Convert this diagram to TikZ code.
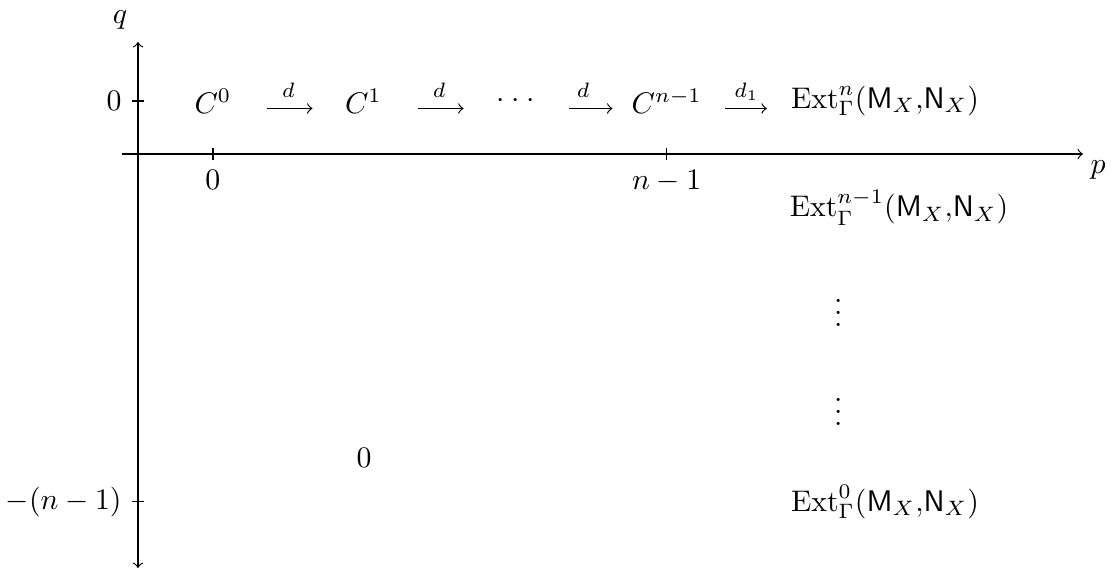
\documentclass[tikz,border=0pt]{standalone}
\usepackage{tikz}
\usetikzlibrary{arrows, positioning, calc}

\begin{document}
\begin{tikzpicture}[
    axis/.style={thin},
    tick/.style={thin},
    map/.style={->, thin},
    maplabel/.style={above, font=\scriptsize, text depth=0pt},
    entry/.style={inner sep=3.33pt}
]

\useasboundingbox (-1.627,-4.917) rectangle (11.533,1.816);

% =================== AXES ===================
\draw[axis, ->] (-0.189,0) -- (11.144,0);
\draw[axis, <->] (0,-4.882) -- (0,1.321);

\node (plab) at (11.321,-0.189) {$p$};
\node (qlab) at (-0.212,1.580) {$q$};

% ticks with their labels
\draw[tick] (0.884,0.07) -- (0.884,-0.07) node[below] (p0) {$0$};
\draw[tick] (6.235,0.07) -- (6.235,-0.07) node[below] (pn) {$n-1$};
\draw[tick] (0.07,0.625) -- (-0.07,0.625) node[left] (q0) {$0$};
\draw[tick] (0.07,-4.100) -- (-0.07,-4.100) node[left] (qn) {$-(n-1)$};


% =================== ROW q = 0 ===================
\node[entry] (c0) at (0.884,0.625) {$C^0$};
\node[entry] (c1) at (2.659,0.625) {$C^1$};
\node[entry] (dots) at (4.452,0.625) {$\cdot\cdot\cdot$};
\node[entry] (cn) at (6.235,0.625) {$C^{n-1}$};
\node[entry] (extn) at (8.809,0.625)
    {$\mathrm{Ext}^n_\Gamma(\mathsf{M}_X{,}\mathsf{N}_X)$};

\draw[map, shorten <=8.3pt, shorten >=7.4pt]
    ([yshift=-2.5pt]c0.east) -- node[maplabel] {$d$} ([yshift=-2.5pt]c1.west);
\draw[map, shorten <=8.5pt, shorten >=7.5pt]
    ([yshift=-2.5pt]c1.east) -- node[maplabel] {$d$} ([yshift=-2.5pt]dots.west);
\draw[map, shorten <=7.9pt, shorten >=2.9pt]
    ([yshift=-2.5pt]dots.east) -- node[maplabel] {$d$} ([yshift=-2.5pt]cn.west);
\draw[map, shorten <=4.2pt, shorten >=4.6pt]
    ([yshift=-2.5pt]cn.east) -- node[maplabel] {$d_1$} ([yshift=-2.5pt]extn.west);


% =================== COLUMN p = n ===================
\node[entry] (extnm) at (8.974,-0.637)
    {$\mathrm{Ext}^{n-1}_\Gamma(\mathsf{M}_X{,}\mathsf{N}_X)$};
\node[entry] (vd1) at (8.258,-1.772) {$\vdots$};
\node[entry] (vd2) at (8.258,-2.933) {$\vdots$};
\node[entry] (ext0) at (8.809,-4.100)
    {$\mathrm{Ext}^0_\Gamma(\mathsf{M}_X{,}\mathsf{N}_X)$};

% zero region
\node[entry] (zero) at (2.665,-3.579) {$0$};

\end{tikzpicture}
\end{document}
